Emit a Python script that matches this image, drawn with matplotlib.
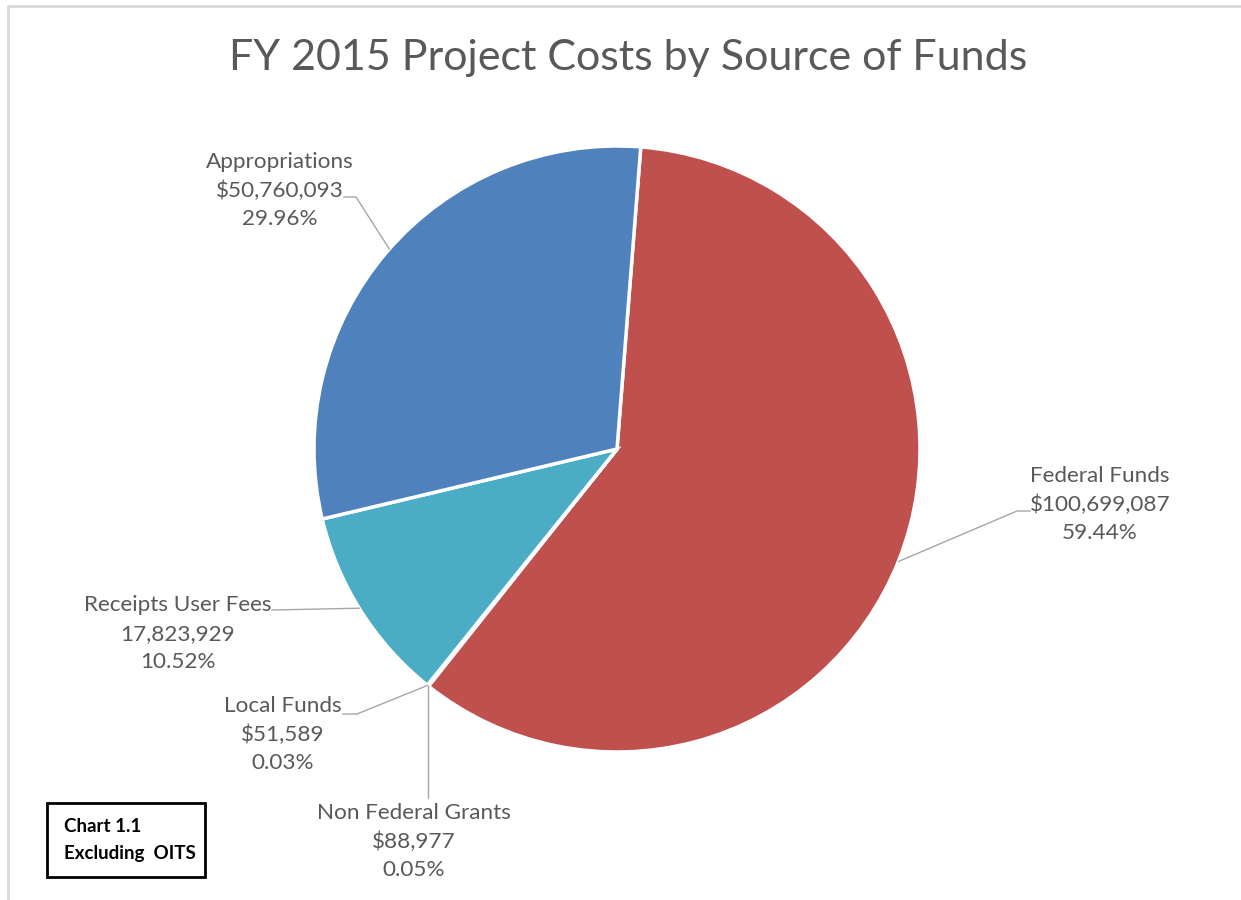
import numpy as np
import matplotlib.pyplot as plt
from matplotlib.patches import Rectangle

# data, in Excel's drawing order (clockwise from the top)
sources = ['Federal Funds', 'Non Federal Grants', 'Local Funds',
           'Receipts User Fees', 'Appropriations']
amounts = [100699087, 88977, 51589, 17823929, 50760093]
amount_txt = ['$100,699,087', '$88,977', '$51,589', '17,823,929', '$50,760,093']
pct_txt = ['59.44%', '0.05%', '0.03%', '10.52%', '29.96%']
colors = ['#C0504D', '#8064A2', '#9BBB59', '#4BACC6', '#4F81BD']

W, H = 1241, 900
fig = plt.figure(figsize=(W/100, H/100), dpi=100)
ax = fig.add_axes([0, 0, 1, 1])

cx, cy, R = 617, H-449, 303
wedges, _ = ax.pie(amounts, colors=colors, startangle=85.5, counterclock=False,
                   center=(cx, cy), radius=R, frame=True,
                   wedgeprops=dict(edgecolor='white', linewidth=2.5))
ax.set_xlim(0, W)
ax.set_ylim(0, H)
ax.axis('off')

font = 'Lato'
grey = '#595959'
line_c = '#A6A6A6'

# border of the chart area
ax.plot([8, 8, W], [0, H-6, H-6], color='#D9D9D9', lw=2, clip_on=False)

ax.text(628, H-58, 'FY 2015 Project Costs by Source of Funds', ha='center',
        va='center', fontsize=31, color=grey, family=font)


def edge(ang):
    a = np.radians(ang)
    return cx + R*np.cos(a), cy + R*np.sin(a)


def mid_angle(w):
    return (w.theta1 + w.theta2) / 2


# label layout: text centre x, top line y (pixels from top), leader path
tip = edge(mid_angle(wedges[1]))
labels = {
    0: (1100, 476, [(1030, H-511), (1017, H-511), edge(-21.8)]),
    1: (414, 813, [(tip[0], H-798), tip]),
    2: (283, 706, [(343, H-714), (357, H-714), edge(mid_angle(wedges[2]))]),
    3: (178, 605, [(272, H-610), edge(211.7)]),
    4: (280, 162, [(344, H-197), (356, H-197), edge(138.7)]),
}
for i, (tx, ty, path) in labels.items():
    for k, s in enumerate([sources[i], amount_txt[i], pct_txt[i]]):
        ax.text(tx, H-(ty + k*28.7), s, ha='center', va='center',
                fontsize=16.2, color=grey, family=font)
    xs, ys = zip(*path)
    ax.plot(xs, ys, color=line_c, lw=1)

# note box
ax.add_patch(Rectangle((47, H-877), 158, 74, fill=False, edgecolor='black', lw=2))
ax.text(64, H-827, 'Chart 1.1', ha='left', va='center', fontsize=13.5,
        fontweight='bold', family=font)
ax.text(64, H-853, 'Excluding  OITS', ha='left', va='center', fontsize=13.5,
        fontweight='bold', family=font)

fig.savefig('out.png', dpi=100, facecolor='white')
